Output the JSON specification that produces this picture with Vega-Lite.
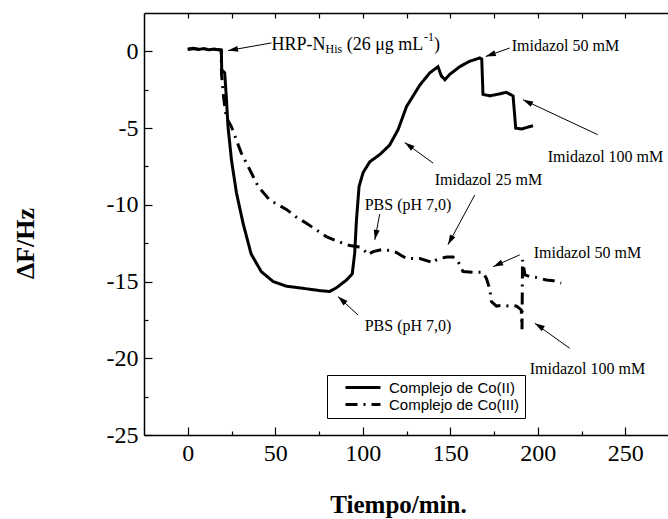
{
  "$schema": "https://vega.github.io/schema/vega-lite/v6.json",
  "width": 525,
  "height": 422,
  "autosize": "none",
  "padding": {"left": 144, "top": 13, "right": 0, "bottom": 84},
  "background": "white",
  "config": {
    "view": {"stroke": null},
    "font": "Liberation Serif"
  },
  "datasets": {
    "curvas": [
      {"t": 0, "df": 0.15, "serie": "Complejo de Co(II)"},
      {"t": 3, "df": 0.2, "serie": "Complejo de Co(II)"},
      {"t": 6, "df": 0.12, "serie": "Complejo de Co(II)"},
      {"t": 9, "df": 0.18, "serie": "Complejo de Co(II)"},
      {"t": 12, "df": 0.1, "serie": "Complejo de Co(II)"},
      {"t": 15, "df": 0.15, "serie": "Complejo de Co(II)"},
      {"t": 18, "df": 0.1, "serie": "Complejo de Co(II)"},
      {"t": 19.2, "df": 0.05, "serie": "Complejo de Co(II)"},
      {"t": 19.4, "df": -1.2, "serie": "Complejo de Co(II)"},
      {"t": 21.1, "df": -1.4, "serie": "Complejo de Co(II)"},
      {"t": 22, "df": -2.9, "serie": "Complejo de Co(II)"},
      {"t": 23, "df": -4.9, "serie": "Complejo de Co(II)"},
      {"t": 25, "df": -7.1, "serie": "Complejo de Co(II)"},
      {"t": 27.8, "df": -9.2, "serie": "Complejo de Co(II)"},
      {"t": 31.6, "df": -11.2, "serie": "Complejo de Co(II)"},
      {"t": 36.2, "df": -13.2, "serie": "Complejo de Co(II)"},
      {"t": 42, "df": -14.35, "serie": "Complejo de Co(II)"},
      {"t": 48.8, "df": -15.0, "serie": "Complejo de Co(II)"},
      {"t": 56.2, "df": -15.3, "serie": "Complejo de Co(II)"},
      {"t": 63, "df": -15.4, "serie": "Complejo de Co(II)"},
      {"t": 69.7, "df": -15.5, "serie": "Complejo de Co(II)"},
      {"t": 76, "df": -15.6, "serie": "Complejo de Co(II)"},
      {"t": 81.1, "df": -15.65, "serie": "Complejo de Co(II)"},
      {"t": 85, "df": -15.4, "serie": "Complejo de Co(II)"},
      {"t": 90.7, "df": -14.9, "serie": "Complejo de Co(II)"},
      {"t": 94, "df": -14.5, "serie": "Complejo de Co(II)"},
      {"t": 95.4, "df": -13.15, "serie": "Complejo de Co(II)"},
      {"t": 96.4, "df": -11.0, "serie": "Complejo de Co(II)"},
      {"t": 97.9, "df": -8.8, "serie": "Complejo de Co(II)"},
      {"t": 100.2, "df": -7.9, "serie": "Complejo de Co(II)"},
      {"t": 104, "df": -7.2, "serie": "Complejo de Co(II)"},
      {"t": 110, "df": -6.7, "serie": "Complejo de Co(II)"},
      {"t": 115.4, "df": -6.1, "serie": "Complejo de Co(II)"},
      {"t": 120.2, "df": -5.1, "serie": "Complejo de Co(II)"},
      {"t": 125, "df": -3.6, "serie": "Complejo de Co(II)"},
      {"t": 132.6, "df": -2.2, "serie": "Complejo de Co(II)"},
      {"t": 138.3, "df": -1.4, "serie": "Complejo de Co(II)"},
      {"t": 143, "df": -1.0, "serie": "Complejo de Co(II)"},
      {"t": 144.9, "df": -1.6, "serie": "Complejo de Co(II)"},
      {"t": 146.9, "df": -1.85, "serie": "Complejo de Co(II)"},
      {"t": 149.7, "df": -1.5, "serie": "Complejo de Co(II)"},
      {"t": 155.4, "df": -1.0, "serie": "Complejo de Co(II)"},
      {"t": 161, "df": -0.65, "serie": "Complejo de Co(II)"},
      {"t": 166.9, "df": -0.43, "serie": "Complejo de Co(II)"},
      {"t": 168, "df": -0.5, "serie": "Complejo de Co(II)"},
      {"t": 168.7, "df": -2.8, "serie": "Complejo de Co(II)"},
      {"t": 172.6, "df": -2.9, "serie": "Complejo de Co(II)"},
      {"t": 177, "df": -2.8, "serie": "Complejo de Co(II)"},
      {"t": 182, "df": -2.67, "serie": "Complejo de Co(II)"},
      {"t": 185.9, "df": -2.9, "serie": "Complejo de Co(II)"},
      {"t": 187.4, "df": -5.0, "serie": "Complejo de Co(II)"},
      {"t": 190.7, "df": -5.06, "serie": "Complejo de Co(II)"},
      {"t": 194, "df": -4.95, "serie": "Complejo de Co(II)"},
      {"t": 197.3, "df": -4.85, "serie": "Complejo de Co(II)"},

      {"t": 0, "df": 0.12, "serie": "Complejo de Co(III)"},
      {"t": 4, "df": 0.18, "serie": "Complejo de Co(III)"},
      {"t": 8, "df": 0.1, "serie": "Complejo de Co(III)"},
      {"t": 12, "df": 0.15, "serie": "Complejo de Co(III)"},
      {"t": 16, "df": 0.12, "serie": "Complejo de Co(III)"},
      {"t": 19.1, "df": 0.1, "serie": "Complejo de Co(III)"},
      {"t": 19.3, "df": -1.5, "serie": "Complejo de Co(III)"},
      {"t": 20.5, "df": -3.0, "serie": "Complejo de Co(III)"},
      {"t": 22, "df": -4.3, "serie": "Complejo de Co(III)"},
      {"t": 24.9, "df": -4.9, "serie": "Complejo de Co(III)"},
      {"t": 26.9, "df": -5.5, "serie": "Complejo de Co(III)"},
      {"t": 30.5, "df": -6.6, "serie": "Complejo de Co(III)"},
      {"t": 35.4, "df": -7.7, "serie": "Complejo de Co(III)"},
      {"t": 40.2, "df": -8.8, "serie": "Complejo de Co(III)"},
      {"t": 46.9, "df": -9.7, "serie": "Complejo de Co(III)"},
      {"t": 56.4, "df": -10.3, "serie": "Complejo de Co(III)"},
      {"t": 62, "df": -10.8, "serie": "Complejo de Co(III)"},
      {"t": 67.8, "df": -11.2, "serie": "Complejo de Co(III)"},
      {"t": 73, "df": -11.6, "serie": "Complejo de Co(III)"},
      {"t": 79.2, "df": -12.07, "serie": "Complejo de Co(III)"},
      {"t": 86, "df": -12.4, "serie": "Complejo de Co(III)"},
      {"t": 92.6, "df": -12.65, "serie": "Complejo de Co(III)"},
      {"t": 98.3, "df": -12.75, "serie": "Complejo de Co(III)"},
      {"t": 101, "df": -13.0, "serie": "Complejo de Co(III)"},
      {"t": 103, "df": -13.26, "serie": "Complejo de Co(III)"},
      {"t": 105.9, "df": -13.05, "serie": "Complejo de Co(III)"},
      {"t": 111.6, "df": -12.9, "serie": "Complejo de Co(III)"},
      {"t": 116, "df": -13.0, "serie": "Complejo de Co(III)"},
      {"t": 119.2, "df": -13.1, "serie": "Complejo de Co(III)"},
      {"t": 122, "df": -13.3, "serie": "Complejo de Co(III)"},
      {"t": 125, "df": -13.5, "serie": "Complejo de Co(III)"},
      {"t": 132.6, "df": -13.5, "serie": "Complejo de Co(III)"},
      {"t": 138.3, "df": -13.7, "serie": "Complejo de Co(III)"},
      {"t": 140.2, "df": -13.8, "serie": "Complejo de Co(III)"},
      {"t": 142, "df": -13.6, "serie": "Complejo de Co(III)"},
      {"t": 144, "df": -13.5, "serie": "Complejo de Co(III)"},
      {"t": 148, "df": -13.4, "serie": "Complejo de Co(III)"},
      {"t": 151.6, "df": -13.4, "serie": "Complejo de Co(III)"},
      {"t": 154.5, "df": -13.7, "serie": "Complejo de Co(III)"},
      {"t": 157.3, "df": -14.35, "serie": "Complejo de Co(III)"},
      {"t": 163, "df": -14.4, "serie": "Complejo de Co(III)"},
      {"t": 168.7, "df": -14.4, "serie": "Complejo de Co(III)"},
      {"t": 170.7, "df": -14.8, "serie": "Complejo de Co(III)"},
      {"t": 172.6, "df": -15.5, "serie": "Complejo de Co(III)"},
      {"t": 173.5, "df": -16.3, "serie": "Complejo de Co(III)"},
      {"t": 176.4, "df": -16.6, "serie": "Complejo de Co(III)"},
      {"t": 180, "df": -16.55, "serie": "Complejo de Co(III)"},
      {"t": 184, "df": -16.6, "serie": "Complejo de Co(III)"},
      {"t": 187.8, "df": -16.6, "serie": "Complejo de Co(III)"},
      {"t": 190.6, "df": -16.85, "serie": "Complejo de Co(III)"},
      {"t": 191.0, "df": -18.1, "serie": "Complejo de Co(III)"},
      {"t": 191.3, "df": -13.6, "serie": "Complejo de Co(III)"},
      {"t": 192.7, "df": -14.57, "serie": "Complejo de Co(III)"},
      {"t": 195.4, "df": -14.68, "serie": "Complejo de Co(III)"},
      {"t": 200, "df": -14.75, "serie": "Complejo de Co(III)"},
      {"t": 204.9, "df": -14.9, "serie": "Complejo de Co(III)"},
      {"t": 209, "df": -14.95, "serie": "Complejo de Co(III)"},
      {"t": 213.4, "df": -15.1, "serie": "Complejo de Co(III)"}
    ],
    "notas": [
      {"x": 185.1, "y": 0.37, "texto": "Imidazol 50 mM"},
      {"x": 205.7, "y": -6.87, "texto": "Imidazol 100 mM"},
      {"x": 141.1, "y": -8.37, "texto": "Imidazol 25 mM"},
      {"x": 101.1, "y": -10.0, "texto": "PBS (pH 7,0)"},
      {"x": 101.1, "y": -17.9, "texto": "PBS (pH 7,0)"},
      {"x": 197.7, "y": -13.13, "texto": "Imidazol 50 mM"},
      {"x": 195.4, "y": -20.7, "texto": "Imidazol 100 mM"}
    ],
    "rotulo": [
      {"x": 47.8, "y": 0.44, "texto": "HRP-N"},
      {"x": 90.8, "y": 0.44, "texto": "(26 μg mL"},
      {"x": 140.7, "y": 0.44, "texto": ")"}
    ],
    "indices": [
      {"x": 78.7, "y": 0.15, "texto": "His"},
      {"x": 135.0, "y": 0.92, "texto": "-1"}
    ],
    "flechas": [
      {"x": 47.8, "y": 0.55, "x2": 23, "y2": 0.05, "dir": 260},
      {"x": 184, "y": 0.22, "x2": 170.3, "y2": -0.33, "dir": 251},
      {"x": 234.3, "y": -5.43, "x2": 191.6, "y2": -3.15, "dir": 296},
      {"x": 140.2, "y": -7.28, "x2": 124, "y2": -5.94, "dir": 306},
      {"x": 164, "y": -9.36, "x2": 148.7, "y2": -12.6, "dir": 208},
      {"x": 109.7, "y": -10.6, "x2": 106.9, "y2": -12.28, "dir": 191},
      {"x": 97.3, "y": -17.18, "x2": 85.9, "y2": -15.98, "dir": 312},
      {"x": 189.7, "y": -13.26, "x2": 174.5, "y2": -14.03, "dir": 246},
      {"x": 218.3, "y": -19.35, "x2": 198.3, "y2": -17.72, "dir": 302}
    ]
  },
  "layer": [
    {
      "data": {"name": "curvas"},
      "mark": {"type": "line", "color": "black", "strokeWidth": 3, "clip": true},
      "encoding": {
        "x": {
          "field": "t", "type": "quantitative",
          "scale": {"domain": [-25, 275], "nice": false, "zero": false},
          "axis": {
            "orient": "bottom",
            "values": [0, 50, 100, 150, 200, 250],
            "grid": false,
            "title": "Tiempo/min.",
            "titleFont": "Liberation Serif", "titleFontSize": 25, "titleFontWeight": "bold", "titleColor": "black",
            "titleX": 254, "titleY": 77, "titleAlign": "center", "titleBaseline": "alphabetic",
            "labelFont": "Liberation Serif", "labelFontSize": 24, "labelColor": "black", "labelPadding": 14,
            "labelFlush": false, "labelOverlap": false,
            "tickSize": -8, "tickColor": "black", "tickWidth": 1.2,
            "domainColor": "black", "domainWidth": 1.5
          }
        },
        "y": {
          "field": "df", "type": "quantitative",
          "scale": {"domain": [-25, 2.5], "nice": false, "zero": false},
          "axis": {
            "orient": "left",
            "values": [-25, -20, -15, -10, -5, 0],
            "grid": false,
            "title": "ΔF/Hz",
            "titleFont": "Liberation Serif", "titleFontSize": 26, "titleFontWeight": "bold", "titleColor": "black",
            "titleAngle": 270, "titleX": -119, "titleY": 230, "titleAlign": "center", "titleBaseline": "middle",
            "labelExpr": "replace(datum.label, '\u2212', '-')",
            "labelFont": "Liberation Serif", "labelFontSize": 24, "labelColor": "black", "labelPadding": 14,
            "labelFlush": false, "labelOverlap": false,
            "tickSize": -8, "tickColor": "black", "tickWidth": 1.2,
            "domainColor": "black", "domainWidth": 1.5
          }
        },
        "strokeDash": {
          "field": "serie", "type": "nominal",
          "scale": {"domain": ["Complejo de Co(II)", "Complejo de Co(III)"], "range": [[1, 0], [12, 6, 2, 6]]},
          "legend": {
            "orient": "none", "legendX": 183, "legendY": 362,
            "title": null,
            "strokeColor": "black", "fillColor": "white",
            "padding": 5,
            "symbolType": "M-3.5,0H3.5", "symbolSize": 100, "symbolStrokeWidth": 3, "symbolStrokeColor": "black",
            "symbolOffset": 23.5,
            "labelFont": "Liberation Sans", "labelFontSize": 15, "labelColor": "black", "labelOffset": 18.5,
            "labelLimit": 300, "rowPadding": 1
          }
        }
      }
    },
    {
      "data": {"name": "notas"},
      "mark": {"type": "text", "align": "left", "baseline": "middle", "font": "Liberation Serif", "fontSize": 16, "color": "black"},
      "encoding": {
        "x": {
          "field": "x", "type": "quantitative",
          "scale": {"domain": [-25, 275], "nice": false, "zero": false},
          "axis": {
            "orient": "bottom", "values": [25, 75, 125, 175, 225],
            "labels": false, "domain": false, "grid": false, "title": null,
            "tickSize": -4, "tickColor": "black", "tickWidth": 1.2
          }
        },
        "y": {
          "field": "y", "type": "quantitative",
          "scale": {"domain": [-25, 2.5], "nice": false, "zero": false},
          "axis": {
            "orient": "left", "values": [-22.5, -17.5, -12.5, -7.5, -2.5],
            "labels": false, "domain": false, "grid": false, "title": null,
            "tickSize": -4, "tickColor": "black", "tickWidth": 1.2
          }
        },
        "text": {"field": "texto"}
      }
    },
    {
      "data": {"name": "rotulo"},
      "mark": {"type": "text", "align": "left", "baseline": "middle", "font": "Liberation Serif", "fontSize": 18, "color": "black"},
      "encoding": {
        "x": {"field": "x", "type": "quantitative", "scale": {"domain": [-25, 275], "nice": false, "zero": false}, "axis": null},
        "y": {"field": "y", "type": "quantitative", "scale": {"domain": [-25, 2.5], "nice": false, "zero": false}, "axis": null},
        "text": {"field": "texto"}
      }
    },
    {
      "data": {"name": "indices"},
      "mark": {"type": "text", "align": "left", "baseline": "middle", "font": "Liberation Serif", "fontSize": 12, "color": "black"},
      "encoding": {
        "x": {"field": "x", "type": "quantitative", "scale": {"domain": [-25, 275], "nice": false, "zero": false}, "axis": null},
        "y": {"field": "y", "type": "quantitative", "scale": {"domain": [-25, 2.5], "nice": false, "zero": false}, "axis": null},
        "text": {"field": "texto"}
      }
    },
    {
      "data": {"name": "flechas"},
      "mark": {"type": "rule", "color": "black", "strokeWidth": 1},
      "encoding": {
        "x": {
          "field": "x", "type": "quantitative",
          "scale": {"domain": [-25, 275], "nice": false, "zero": false},
          "axis": {
            "orient": "top", "values": [0, 25, 50, 75, 100, 125, 150, 175, 200, 225, 250],
            "labels": false, "grid": false, "title": null,
            "tickSize": -5, "tickColor": "black", "tickWidth": 1.2,
            "domainColor": "black", "domainWidth": 1.5
          }
        },
        "y": {"field": "y", "type": "quantitative", "scale": {"domain": [-25, 2.5], "nice": false, "zero": false}, "axis": null},
        "x2": {"field": "x2"},
        "y2": {"field": "y2"}
      }
    },
    {
      "data": {"name": "flechas"},
      "mark": {"type": "point", "shape": "M0,0L0.6,2L-0.6,2Z", "filled": true, "color": "black", "opacity": 1, "size": 100, "strokeWidth": 0},
      "encoding": {
        "x": {"field": "x2", "type": "quantitative", "scale": {"domain": [-25, 275], "nice": false, "zero": false}, "axis": null},
        "y": {"field": "y2", "type": "quantitative", "scale": {"domain": [-25, 2.5], "nice": false, "zero": false}, "axis": null},
        "angle": {"field": "dir", "type": "quantitative", "scale": null}
      }
    }
  ],
  "resolve": {"axis": {"x": "independent", "y": "independent"}}
}
